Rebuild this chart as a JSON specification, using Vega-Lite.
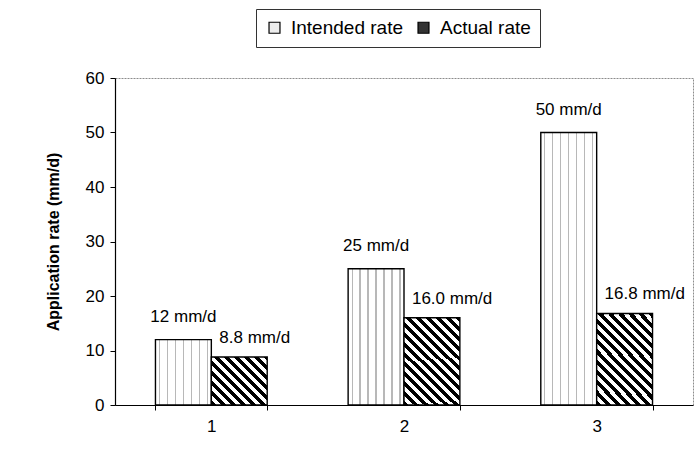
{
  "$schema": "https://vega.github.io/schema/vega-lite/v6.json",
  "width": 578,
  "height": 327,
  "autosize": "none",
  "padding": {"left": 115, "top": 78, "right": 6, "bottom": 56},
  "background": "white",
  "config": {
    "font": "Liberation Sans",
    "view": {"stroke": "#8c8c8c", "strokeDash": [2, 1], "strokeWidth": 1},
    "axis": {
      "domainColor": "black",
      "tickColor": "black",
      "labelColor": "black",
      "titleColor": "black",
      "grid": false,
      "labelFont": "Liberation Sans",
      "titleFont": "Liberation Sans",
      "labelFontSize": 17
    }
  },
  "data": {
    "values": [
      {"run": "1", "type": "Intended rate", "value": 12, "label": "12 mm/d"},
      {"run": "1", "type": "Actual rate", "value": 8.8, "label": "8.8 mm/d"},
      {"run": "2", "type": "Intended rate", "value": 25, "label": "25 mm/d"},
      {"run": "2", "type": "Actual rate", "value": 16.0, "label": "16.0 mm/d"},
      {"run": "3", "type": "Intended rate", "value": 50, "label": "50 mm/d"},
      {"run": "3", "type": "Actual rate", "value": 16.8, "label": "16.8 mm/d"}
    ]
  },
  "encoding": {
    "x": {
      "field": "run",
      "type": "nominal",
      "scale": {"paddingInner": 0.42, "paddingOuter": 0.21},
      "axis": {"title": null, "labelAngle": 0, "tickBand": "extent", "tickSize": 5, "labelPadding": 8, "domainWidth": 1.2}
    },
    "xOffset": {
      "field": "type",
      "type": "nominal",
      "scale": {"domain": ["Intended rate", "Actual rate"], "paddingInner": 0, "paddingOuter": 0}
    },
    "y": {
      "field": "value",
      "type": "quantitative",
      "scale": {"domain": [0, 60], "nice": false},
      "axis": {
        "title": "Application rate (mm/d)",
        "values": [0, 10, 20, 30, 40, 50, 60],
        "titleFontSize": 16,
        "titleFontWeight": "bold",
        "titlePadding": 24,
        "tickSize": 5,
        "labelPadding": 6,
        "domainWidth": 1.2
      }
    }
  },
  "layer": [
    {
      "mark": {"type": "bar", "stroke": "black", "strokeWidth": 1.4},
      "encoding": {
        "fill": {
          "field": "type",
          "type": "nominal",
          "scale": {"domain": ["Intended rate", "Actual rate"], "range": ["#ededed", "#333333"]},
          "legend": {
            "orient": "none",
            "legendX": 141,
            "legendY": -69,
            "direction": "horizontal",
            "title": null,
            "strokeColor": "#333333",
            "padding": 9,
            "labelFontSize": 19,
            "labelFont": "Liberation Sans",
            "labelColor": "black",
            "symbolType": "square",
            "symbolSize": 120,
            "symbolStrokeColor": "black",
            "symbolStrokeWidth": 1.2,
            "columnPadding": 11,
            "labelOffset": 7
          },
          "condition": [
            {
              "test": "datum.type === 'Intended rate'",
              "value": {
                "gradient": "linear", "x1": 0, "y1": 0, "x2": 1, "y2": 0,
                "stops": [
                  {"offset": 0, "color": "white"},
                  {"offset": 0.0604, "color": "white"}, {"offset": 0.0604, "color": "#b8b8b8"}, {"offset": 0.0824, "color": "#b8b8b8"}, {"offset": 0.0824, "color": "white"},
                  {"offset": 0.2033, "color": "white"}, {"offset": 0.2033, "color": "#b8b8b8"}, {"offset": 0.2253, "color": "#b8b8b8"}, {"offset": 0.2253, "color": "white"},
                  {"offset": 0.3461, "color": "white"}, {"offset": 0.3461, "color": "#b8b8b8"}, {"offset": 0.3681, "color": "#b8b8b8"}, {"offset": 0.3681, "color": "white"},
                  {"offset": 0.489, "color": "white"}, {"offset": 0.489, "color": "#b8b8b8"}, {"offset": 0.511, "color": "#b8b8b8"}, {"offset": 0.511, "color": "white"},
                  {"offset": 0.6319, "color": "white"}, {"offset": 0.6319, "color": "#b8b8b8"}, {"offset": 0.6539, "color": "#b8b8b8"}, {"offset": 0.6539, "color": "white"},
                  {"offset": 0.7747, "color": "white"}, {"offset": 0.7747, "color": "#b8b8b8"}, {"offset": 0.7967, "color": "#b8b8b8"}, {"offset": 0.7967, "color": "white"},
                  {"offset": 0.9176, "color": "white"}, {"offset": 0.9176, "color": "#b8b8b8"}, {"offset": 0.9396, "color": "#b8b8b8"}, {"offset": 0.9396, "color": "white"},
                  {"offset": 1, "color": "white"}
                ]
              }
            },
            {
              "test": "datum.run === '1'",
              "value": {
                "gradient": "linear", "x1": 0, "y1": 1, "x2": 1.0706, "y2": 0.0815,
                "stops": [
                  {"offset": 0, "color": "black"}, {"offset": 0.048, "color": "black"}, {"offset": 0.048, "color": "white"}, {"offset": 0.0963, "color": "white"},
                  {"offset": 0.0963, "color": "black"}, {"offset": 0.1443, "color": "black"}, {"offset": 0.1443, "color": "white"}, {"offset": 0.1925, "color": "white"},
                  {"offset": 0.1925, "color": "black"}, {"offset": 0.2405, "color": "black"}, {"offset": 0.2405, "color": "white"}, {"offset": 0.2888, "color": "white"},
                  {"offset": 0.2888, "color": "black"}, {"offset": 0.3368, "color": "black"}, {"offset": 0.3368, "color": "white"}, {"offset": 0.385, "color": "white"},
                  {"offset": 0.385, "color": "black"}, {"offset": 0.433, "color": "black"}, {"offset": 0.433, "color": "white"}, {"offset": 0.4813, "color": "white"},
                  {"offset": 0.4813, "color": "black"}, {"offset": 0.5293, "color": "black"}, {"offset": 0.5293, "color": "white"}, {"offset": 0.5775, "color": "white"},
                  {"offset": 0.5775, "color": "black"}, {"offset": 0.6255, "color": "black"}, {"offset": 0.6255, "color": "white"}, {"offset": 0.6738, "color": "white"},
                  {"offset": 0.6738, "color": "black"}, {"offset": 0.7218, "color": "black"}, {"offset": 0.7218, "color": "white"}, {"offset": 0.77, "color": "white"},
                  {"offset": 0.77, "color": "black"}, {"offset": 0.818, "color": "black"}, {"offset": 0.818, "color": "white"}, {"offset": 0.8663, "color": "white"},
                  {"offset": 0.8663, "color": "black"}, {"offset": 0.9143, "color": "black"}, {"offset": 0.9143, "color": "white"}, {"offset": 0.9625, "color": "white"},
                  {"offset": 0.9625, "color": "black"}, {"offset": 1, "color": "black"}
                ]
              }
            },
            {
              "test": "datum.run !== '1'",
              "value": {
                "gradient": "linear", "x1": 0, "y1": 1, "x2": 0.7306, "y2": -0.1685,
                "stops": [
                  {"offset": 0, "color": "black"}, {"offset": 0.0345, "color": "black"}, {"offset": 0.0345, "color": "white"}, {"offset": 0.069, "color": "white"},
                  {"offset": 0.069, "color": "black"}, {"offset": 0.1035, "color": "black"}, {"offset": 0.1035, "color": "white"}, {"offset": 0.1379, "color": "white"},
                  {"offset": 0.1379, "color": "black"}, {"offset": 0.1724, "color": "black"}, {"offset": 0.1724, "color": "white"}, {"offset": 0.2069, "color": "white"},
                  {"offset": 0.2069, "color": "black"}, {"offset": 0.2414, "color": "black"}, {"offset": 0.2414, "color": "white"}, {"offset": 0.2759, "color": "white"},
                  {"offset": 0.2759, "color": "black"}, {"offset": 0.3104, "color": "black"}, {"offset": 0.3104, "color": "white"}, {"offset": 0.3448, "color": "white"},
                  {"offset": 0.3448, "color": "black"}, {"offset": 0.3793, "color": "black"}, {"offset": 0.3793, "color": "white"}, {"offset": 0.4138, "color": "white"},
                  {"offset": 0.4138, "color": "black"}, {"offset": 0.4483, "color": "black"}, {"offset": 0.4483, "color": "white"}, {"offset": 0.4828, "color": "white"},
                  {"offset": 0.4828, "color": "black"}, {"offset": 0.5173, "color": "black"}, {"offset": 0.5173, "color": "white"}, {"offset": 0.5517, "color": "white"},
                  {"offset": 0.5517, "color": "black"}, {"offset": 0.5862, "color": "black"}, {"offset": 0.5862, "color": "white"}, {"offset": 0.6207, "color": "white"},
                  {"offset": 0.6207, "color": "black"}, {"offset": 0.6552, "color": "black"}, {"offset": 0.6552, "color": "white"}, {"offset": 0.6897, "color": "white"},
                  {"offset": 0.6897, "color": "black"}, {"offset": 0.7242, "color": "black"}, {"offset": 0.7242, "color": "white"}, {"offset": 0.7586, "color": "white"},
                  {"offset": 0.7586, "color": "black"}, {"offset": 0.7931, "color": "black"}, {"offset": 0.7931, "color": "white"}, {"offset": 0.8276, "color": "white"},
                  {"offset": 0.8276, "color": "black"}, {"offset": 0.8621, "color": "black"}, {"offset": 0.8621, "color": "white"}, {"offset": 0.8966, "color": "white"},
                  {"offset": 0.8966, "color": "black"}, {"offset": 0.9311, "color": "black"}, {"offset": 0.9311, "color": "white"}, {"offset": 0.9655, "color": "white"},
                  {"offset": 0.9655, "color": "black"}, {"offset": 1, "color": "black"}
                ]
              }
            }
          ]
        }
      }
    },
    {
      "transform": [{"filter": "datum.type === 'Intended rate'"}],
      "mark": {"type": "text", "baseline": "middle", "align": "center", "dy": -23, "fontSize": 17, "font": "Liberation Sans", "color": "black"},
      "encoding": {"text": {"field": "label", "type": "nominal"}}
    },
    {
      "transform": [{"filter": "datum.type === 'Actual rate'"}],
      "mark": {"type": "text", "baseline": "middle", "align": "left", "dx": -20, "dy": -19, "fontSize": 17, "font": "Liberation Sans", "color": "black"},
      "encoding": {"text": {"field": "label", "type": "nominal"}}
    }
  ]
}
